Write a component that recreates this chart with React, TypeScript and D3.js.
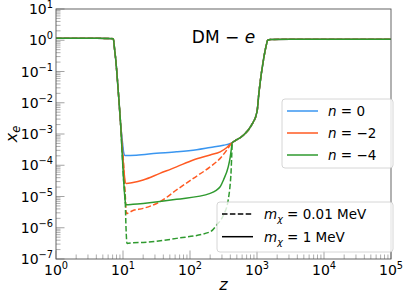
import React from 'react';
import * as d3 from 'd3';

// shared part before the curves split (fully ionised, then the drop)
const zLeft = [1, 2, 4, 6, 7.16, 7.5, 7.76, 8.51, 9.23];
const xeLeft = [1.16, 1.15, 1.15, 1.14, 1.12, 0.5, 0.263, 0.0224, 0.00195];

// shared part after the curves meet again (recombination rise, re-ionised plateau)
const zRight = [427, 468, 631, 832, 1000, 1072, 1259, 1380, 1445, 1585, 3162, 1e4, 1e5];
const xeRight = [5.3e-4, 6.0e-4, 9.3e-4, 1.95e-3, 5.1e-3, 0.0224, 0.263, 0.71, 1.0, 1.06, 1.08, 1.08, 1.08];

// n = 0
const zN0 = [9.77, 10.23, 10.72, 15.8, 31.6, 63, 126, 200, 316, 400];
const xeN0 = [6e-4, 2.6e-4, 2.05e-4, 2.1e-4, 2.4e-4, 2.69e-4, 3.16e-4, 3.72e-4, 4.37e-4, 4.95e-4];

// n = -2, 1 MeV
const zN2 = [9.66, 10.35, 11.09, 14.1, 20, 35.5, 63, 112, 200, 282, 355, 400];
const xeN2 = [5e-4, 6.3e-5, 2.63e-5, 2.82e-5, 3.39e-5, 5.5e-5, 8.9e-5, 1.48e-4, 2.14e-4, 2.69e-4, 3.7e-4, 4.75e-4];

// n = -2, 0.01 MeV
const zN2d = [9.77, 10.23, 10.84, 11.22, 14.1, 20, 35.5, 63, 112, 200, 282, 355, 400];
const xeN2d = [5e-4, 1e-4, 1e-5, 2.88e-6, 3.55e-6, 4.17e-6, 6.76e-6, 1.62e-5, 3.8e-5, 8.9e-5, 1.66e-4, 3.09e-4, 4.5e-4];

// n = -4, 1 MeV
const zN4 = [9.66, 10.23, 10.84, 11.09, 14.1, 20, 63, 200, 282, 316, 372, 398, 414];
const xeN4 = [3.16e-4, 3.16e-5, 6.5e-6, 5.4e-6, 5.6e-6, 6.0e-6, 8.1e-6, 1.26e-5, 2.04e-5, 3.39e-5, 8.9e-5, 1.8e-4, 3.3e-4];

// n = -4, 0.01 MeV
const zN4d = [9.66, 10.23, 10.84, 11.09, 11.48, 14.1, 20, 63, 200, 251, 316, 372, 398, 410, 420];
const xeN4d = [3.16e-4, 3.16e-5, 5.4e-6, 1e-6, 3.16e-7, 3.3e-7, 3.39e-7, 4.57e-7, 7.4e-7, 1.23e-6, 2.57e-6, 7.8e-6, 2.5e-5, 6e-5, 2.2e-4];

const nLabels = ['0', '\u22122', '\u22124'];
const massLabels = ['0.01 MeV', '1 MeV'];
const xDecades = [0, 1, 2, 3, 4, 5];
const yDecades = [1, 0, -1, -2, -3, -4, -5, -6, -7];

const colors = ['#3a96f0', '#ff5a22', '#2f9a2f'];
const FONT = 'DejaVu Sans, sans-serif';

const W = 407;
const H = 299;
const m = { left: 56, right: 391, top: 9, bottom: 259 };

type Pt = [number, number];
const join = (zs: number[], xs: number[]): Pt[] => {
  const all: Pt[] = [];
  zLeft.forEach((z, i) => all.push([z, xeLeft[i]]));
  zs.forEach((z, i) => all.push([z, xs[i]]));
  zRight.forEach((z, i) => all.push([z, xeRight[i]]));
  return all;
};

export default function App() {
  const x = d3.scaleLog().domain([1, 1e5]).range([m.left, m.right]);
  const y = d3.scaleLog().domain([1e-7, 10]).range([m.bottom, m.top]);
  const line = d3.line<Pt>()
    .x(d => x(d[0]))
    .y(d => y(d[1]))
    .curve(d3.curveMonotoneX);

  const series = [
    { pts: join(zN2d, xeN2d), color: colors[1], dash: '5.5,2.4' },
    { pts: join(zN4d, xeN4d), color: colors[2], dash: '5.5,2.4' },
    { pts: join(zN0, xeN0), color: colors[0], dash: undefined },
    { pts: join(zN2, xeN2), color: colors[1], dash: undefined },
    { pts: join(zN4, xeN4), color: colors[2], dash: undefined },
  ];

  const xMinor: number[] = [];
  xDecades.slice(0, -1).forEach(p => {
    for (let k = 2; k <= 9; k++) xMinor.push(k * Math.pow(10, p));
  });
  const yMinor: number[] = [];
  yDecades.slice(1).forEach(p => {
    for (let k = 2; k <= 9; k++) yMinor.push(k * Math.pow(10, p));
  });

  const tickCol = '#999';
  const spineCol = '#555';

  return (
    <svg width={W} height={H} style={{ position: 'absolute', left: 0, top: 0, background: '#fff' }} fontFamily={FONT}>
      <defs>
        <clipPath id="plot">
          <rect x={m.left} y={m.top} width={m.right - m.left} height={m.bottom - m.top} />
        </clipPath>
      </defs>

      {/* ticks, pointing inward */}
      {xMinor.map((v, i) => (
        <line key={'xm' + i} x1={x(v)} x2={x(v)} y1={m.bottom} y2={m.bottom - 4.5} stroke={tickCol} strokeWidth={0.8} />
      ))}
      {xDecades.map(p => (
        <line key={'xM' + p} x1={x(Math.pow(10, p))} x2={x(Math.pow(10, p))} y1={m.bottom} y2={m.bottom - 8.5} stroke={tickCol} strokeWidth={0.9} />
      ))}
      {yMinor.map((v, i) => (
        <line key={'ym' + i} x1={m.left} x2={m.left + 4.5} y1={y(v)} y2={y(v)} stroke={tickCol} strokeWidth={0.8} />
      ))}
      {yDecades.map(p => (
        <line key={'yM' + p} x1={m.left} x2={m.left + 8.5} y1={y(Math.pow(10, p))} y2={y(Math.pow(10, p))} stroke={tickCol} strokeWidth={0.9} />
      ))}

      {/* curves */}
      <g clipPath="url(#plot)">
        {series.map((s, i) => (
          <path key={i} d={line(s.pts) || ''} fill="none" stroke={s.color} strokeWidth={1.5}
            strokeDasharray={s.dash} strokeLinejoin="round" />
        ))}
      </g>

      {/* frame */}
      <rect x={m.left} y={m.top} width={m.right - m.left} height={m.bottom - m.top} fill="none" stroke={spineCol} strokeWidth={0.9} />

      {/* tick labels */}
      {xDecades.map(p => (
        <text key={'xl' + p} x={x(Math.pow(10, p))} y={275} textAnchor="middle" fontSize={14} fill="#000">
          10<tspan fontSize={9.8} dy={-6}>{p}</tspan>
        </text>
      ))}
      {yDecades.map(p => (
        <text key={'yl' + p} x={53} y={y(Math.pow(10, p)) + 5} textAnchor="end" fontSize={14} fill="#000">
          10<tspan fontSize={9.8} dy={-6}>{p < 0 ? '\u2212' + Math.abs(p) : p}</tspan>
        </text>
      ))}

      {/* axis labels */}
      <text x={(m.left + m.right) / 2} y={290} textAnchor="middle" fontSize={16} fontStyle="italic">z</text>
      <text transform={`translate(17, ${(m.top + m.bottom) / 2}) rotate(-90)`} textAnchor="middle" fontSize={16} fontStyle="italic">
        x<tspan fontSize={11.5} dy={3}>e</tspan>
      </text>

      {/* title */}
      <text x={(m.left + m.right) / 2} y={43} textAnchor="middle" fontSize={17}>
        DM {'\u2212'} <tspan fontStyle="italic">e</tspan>
      </text>

      {/* legend: n */}
      <rect x={282} y={99} width={111} height={69} rx={3} fill="#fff" fillOpacity={0.8} stroke="#ccc" strokeWidth={0.8} />
      {nLabels.map((lab, i) => {
        const cy = 111 + i * 22;
        return (
          <g key={'n' + i}>
            <line x1={287} x2={318} y1={cy} y2={cy} stroke={colors[i]} strokeWidth={1.5} />
            <text x={328} y={cy + 5} fontSize={13.5}>
              <tspan fontStyle="italic">n</tspan> = {lab}
            </text>
          </g>
        );
      })}

      {/* legend: mass */}
      <rect x={217} y={202} width={176} height={50} rx={3} fill="#fff" fillOpacity={0.8} stroke="#ccc" strokeWidth={0.8} />
      {massLabels.map((lab, i) => {
        const cy = 214 + i * 22.7;
        return (
          <g key={'m' + i}>
            <line x1={222} x2={253} y1={cy} y2={cy} stroke="#000" strokeWidth={1.5} strokeDasharray={i === 0 ? '5.5,2.4' : undefined} />
            <text x={264} y={cy + 5} fontSize={13.5}>
              <tspan fontStyle="italic">m</tspan><tspan fontStyle="italic" fontSize={9.5} dy={3}>{'\u03c7'}</tspan>
              <tspan dy={-3}> =  {lab}</tspan>
            </text>
          </g>
        );
      })}
    </svg>
  );
}
